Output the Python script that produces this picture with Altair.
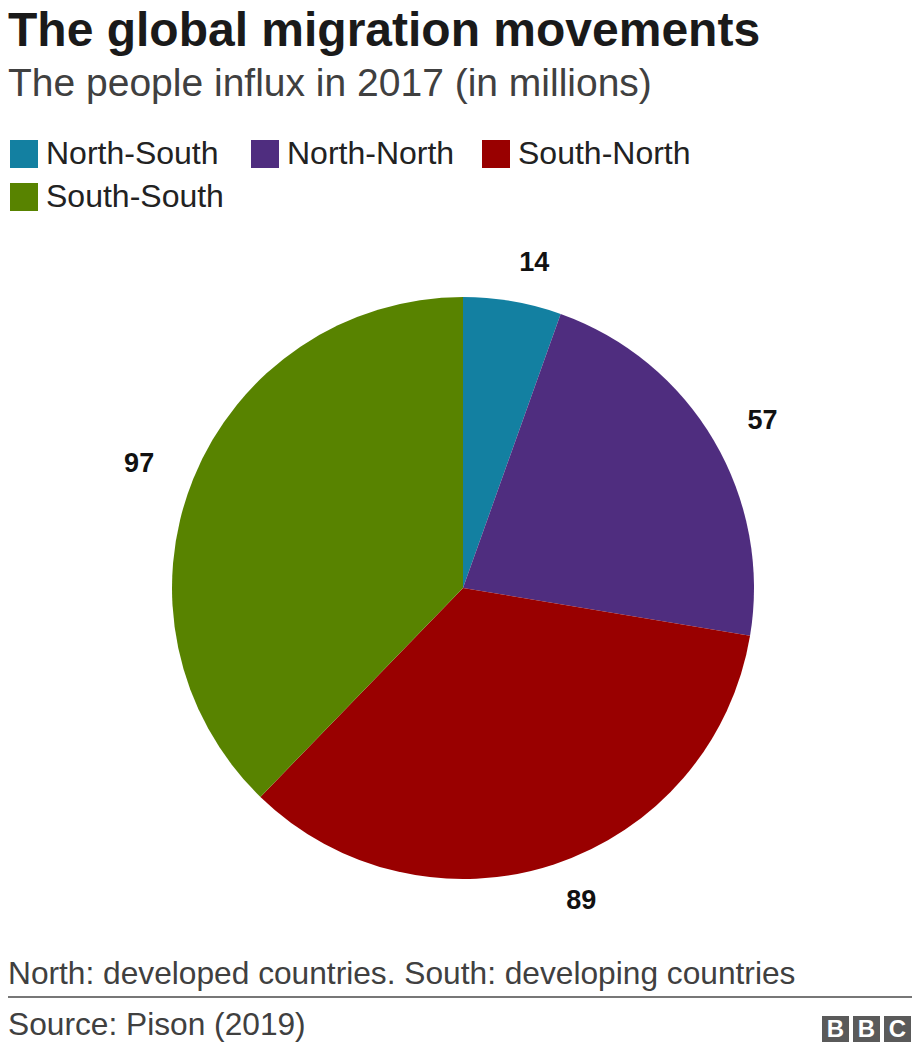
import altair as alt
import pandas as pd

# ---- data ----
categories = ["North-South", "North-North", "South-North", "South-South"]
values = [14, 57, 89, 97]
colors = ["#1380A1", "#4F2D7F", "#990000", "#588300"]
order_idx = [0, 1, 2, 3]

title_text = "The global migration movements"
subtitle_text = "The people influx in 2017 (in millions)"
note_text = "North: developed countries. South: developing countries"
source_text = "Source: Pison (2019)"
logo_letters = ["B", "B", "C"]

FONT = "Liberation Sans"
W, H = 904, 1036
CX, CY = 455, 580
R = 291
LABEL_R = 330

df = pd.DataFrame({"cat": categories, "value": values, "idx": order_idx})
base = alt.Chart(df)

color_enc = alt.Color(
    "cat:N",
    scale=alt.Scale(domain=categories, range=colors),
    legend=alt.Legend(
        title=None,
        orient="none",
        direction="horizontal",
        legendX=0,
        legendY=130,
        columns=3,
        columnPadding=25,
        rowPadding=11,
        symbolType="square",
        symbolSize=784,
        symbolStrokeWidth=0,
        symbolOffset=0,
        labelFont=FONT,
        labelFontSize=32,
        labelColor="#222222",
        labelOffset=6,
        labelLimit=400,
        padding=0,
    ),
)

pie = base.mark_arc(outerRadius=R, strokeWidth=0).encode(
    theta=alt.Theta("value:Q", stack=True),
    color=color_enc,
    order=alt.Order("idx:Q"),
    x=alt.value(CX),
    y=alt.value(CY),
)

# label mid-angles computed from the values themselves
lab_base = base.transform_window(
    cum="sum(value)", sort=[alt.SortField("idx")]
).transform_joinaggregate(
    total="sum(value)"
).transform_calculate(
    mid="datum.cum - datum.value / 2"
)

def label_layer(right_side):
    cond = "datum.mid < datum.total / 2" if right_side else "datum.mid >= datum.total / 2"
    return lab_base.transform_filter(cond).mark_text(
        radius=LABEL_R, font=FONT, fontSize=27, fontWeight="bold", color="#111111",
        align="left" if right_side else "right", baseline="middle",
        dx=0 if right_side else -3,
    ).encode(
        theta=alt.Theta("mid:Q", stack=None),
        text=alt.Text("value:Q"),
        x=alt.value(CX),
        y=alt.value(CY),
    )

labels_r = label_layer(True)
labels_l = label_layer(False)

def txt(s, y, size, color, weight="normal", x=0, align="left"):
    return alt.Chart(pd.DataFrame({"t": [s]})).mark_text(
        font=FONT, fontSize=size, fontWeight=weight, color=color,
        align=align, baseline="alphabetic",
    ).encode(text="t:N", x=alt.value(x), y=alt.value(y))

title = txt(title_text, 38, 48, "#1a1a1a", "bold")
subtitle = txt(subtitle_text, 88, 39, "#404040")
note = txt(note_text, 976, 31.7, "#404040")
source = txt(source_text, 1027, 31.7, "#404040")

rule = alt.Chart(pd.DataFrame({"a": [0]})).mark_rule(color="#777777", strokeWidth=2).encode(
    x=alt.value(0), x2=alt.value(W), y=alt.value(989)
)

logo_layers = []
for i, letter in enumerate(logo_letters):
    x0 = 814 + i * 31
    box = alt.Chart(pd.DataFrame({"a": [0]})).mark_rect(color="#5a5a5a").encode(
        x=alt.value(x0), x2=alt.value(x0 + 27), y=alt.value(1008), y2=alt.value(1034)
    )
    let = alt.Chart(pd.DataFrame({"t": [letter]})).mark_text(
        font=FONT, fontSize=24, fontWeight="bold", color="white",
        align="center", baseline="middle",
    ).encode(text="t:N", x=alt.value(x0 + 13.5), y=alt.value(1022))
    logo_layers += [box, let]

chart = alt.layer(
    pie, labels_r, labels_l, title, subtitle, note, source, rule, *logo_layers
).properties(
    width=W, height=H, autosize=alt.AutoSizeParams(type="none"), padding=0,
).configure_view(stroke=None)

chart.save("out.html", embed_options={"renderer": "svg", "actions": False})
